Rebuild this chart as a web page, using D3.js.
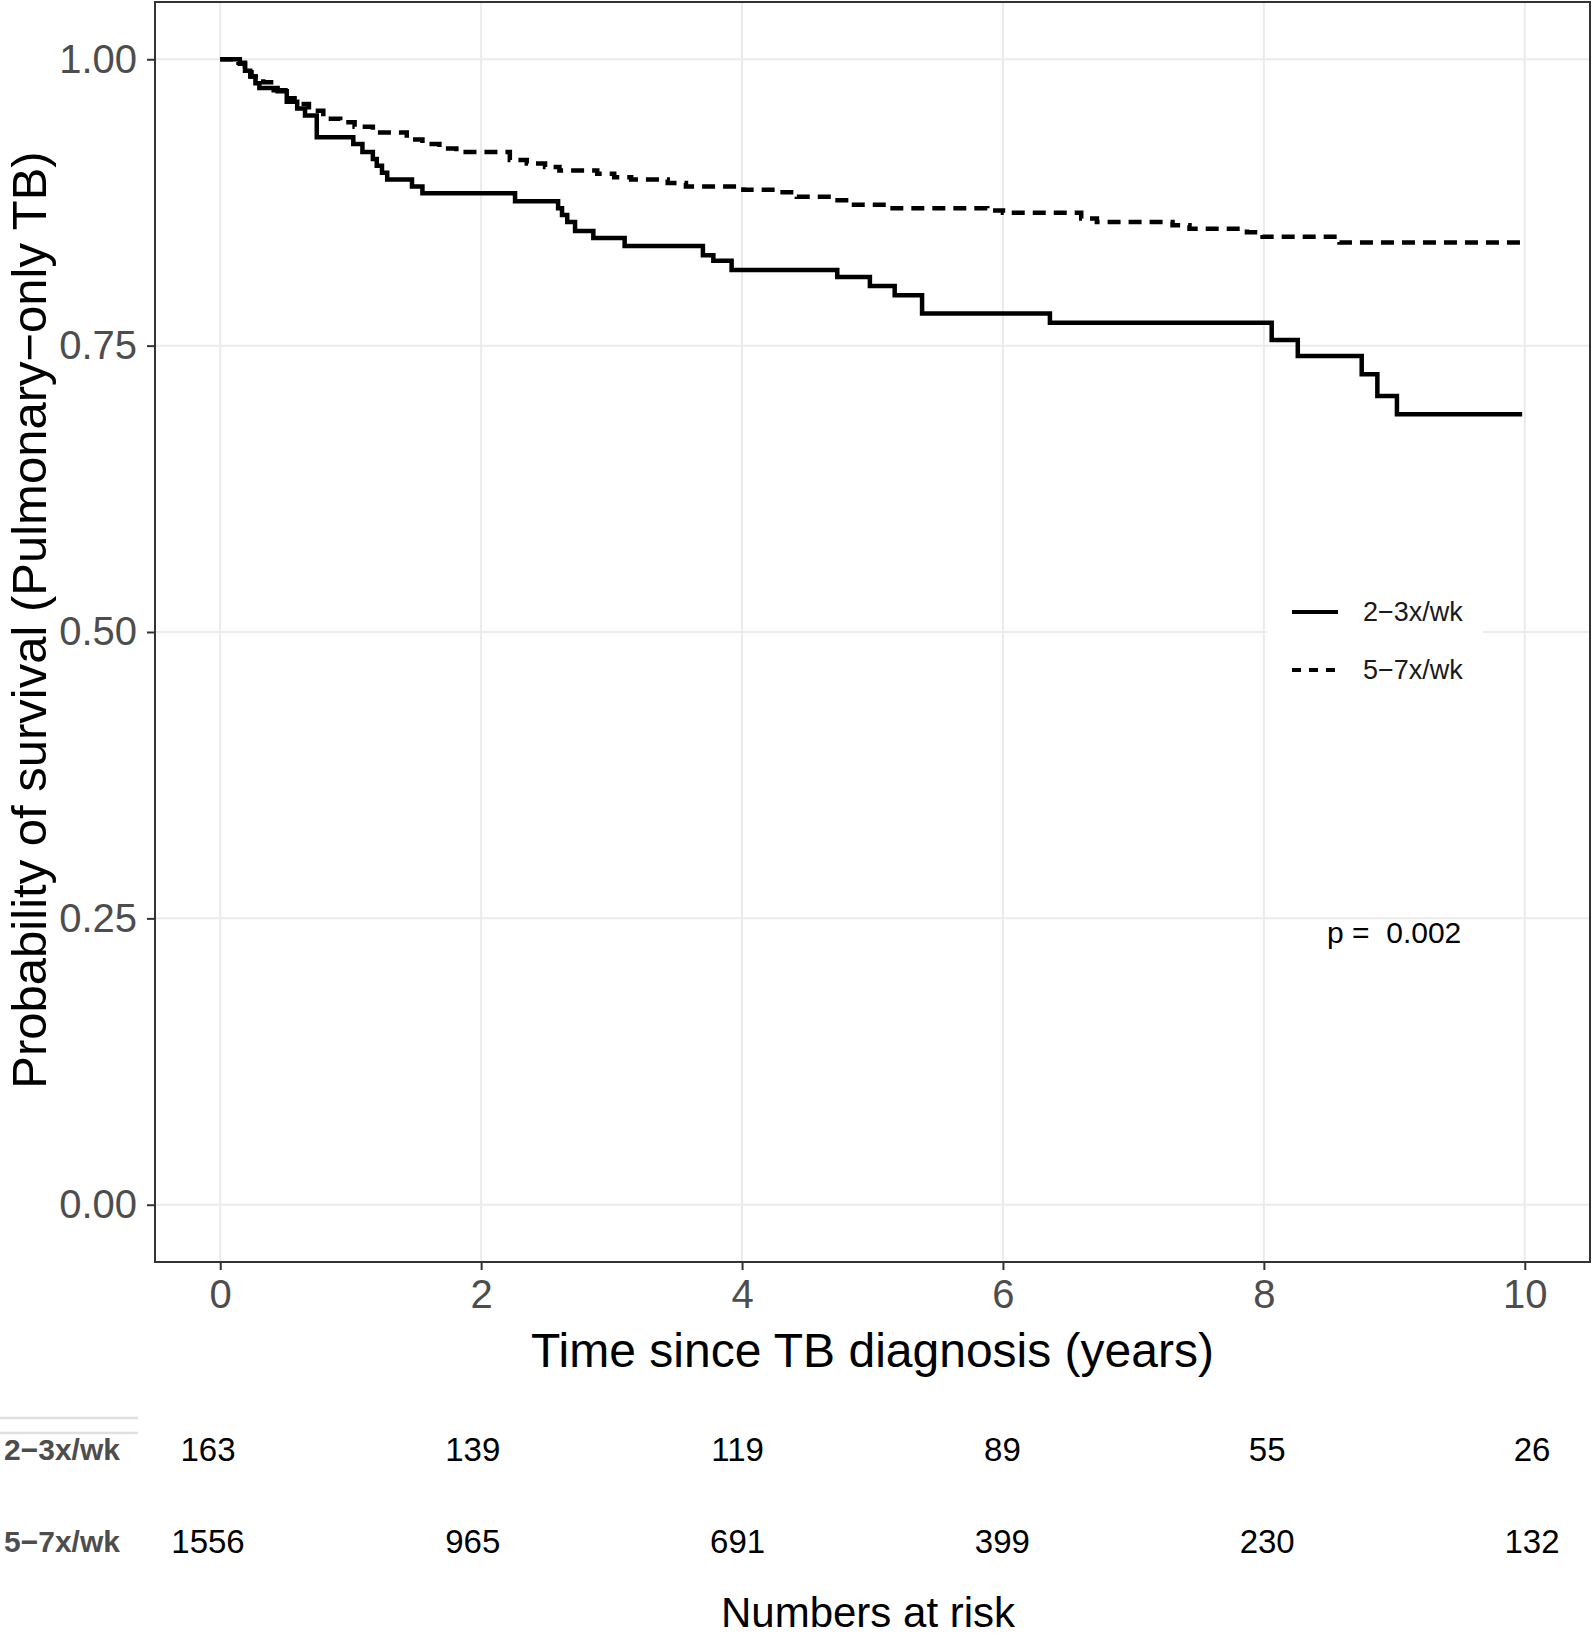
<!DOCTYPE html>
<html>
<head>
<meta charset="utf-8">
<script src="https://cdn.jsdelivr.net/npm/d3@7"></script>
<style>
  body { margin: 0; background: #fff; }
  svg { display: block; font-family: "Liberation Sans", Arial, sans-serif; }
</style>
</head>
<body>
<svg id="chart" width="1592" height="1638"></svg>
<script>
// Kaplan-Meier steps
const groups = ['2\u22123x/wk', '5\u22127x/wk'];

const timeLow = [0, 0.15, 0.19, 0.23, 0.27, 0.30, 0.44, 0.51, 0.59, 0.65, 0.74, 1.02, 1.09, 1.17, 1.20, 1.24,
  1.28, 1.47, 1.55, 2.26, 2.59, 2.62, 2.66, 2.72, 2.86, 3.10, 3.70, 3.78, 3.92, 4.73, 4.98, 5.17, 5.38,
  6.36, 8.06, 8.26, 8.75, 8.87, 9.02, 9.98];
const survLow = [1.0, 0.996, 0.990, 0.985, 0.979, 0.975, 0.972, 0.963, 0.957, 0.951, 0.932, 0.926, 0.919, 0.913, 0.907, 0.901,
  0.895, 0.889, 0.883, 0.876, 0.870, 0.864, 0.858, 0.850, 0.844, 0.837, 0.829, 0.824, 0.816, 0.810, 0.802, 0.794, 0.778,
  0.770, 0.755, 0.741, 0.725, 0.706, 0.690, 0.690];

const timeHigh = [0, 0.14, 0.19, 0.24, 0.33, 0.41, 0.50, 0.57, 0.68, 0.79, 0.92, 1.03, 1.17, 1.43, 1.55, 1.68,
  1.81, 2.22, 2.35, 2.49, 2.60, 2.89, 3.02, 3.15, 3.43, 3.57, 4.01, 4.29, 4.42, 4.70, 4.83, 5.11, 5.88,
  6.00, 6.60, 6.72, 7.30, 7.43, 7.87, 7.99, 8.58, 9.98];
const survHigh = [1.0, 0.997, 0.991, 0.985, 0.980, 0.973, 0.966, 0.961, 0.955, 0.948, 0.945, 0.941, 0.936, 0.930, 0.926, 0.922,
  0.919, 0.912, 0.909, 0.906, 0.903, 0.900, 0.897, 0.895, 0.892, 0.889, 0.886, 0.884, 0.880, 0.877, 0.873, 0.870, 0.868,
  0.866, 0.861, 0.858, 0.855, 0.852, 0.849, 0.845, 0.840, 0.840];

const xTicks = [0, 2, 4, 6, 8, 10];
const yTicks = [0, 0.25, 0.5, 0.75, 1.0];

// numbers at risk
const riskTimes = [0, 2, 4, 6, 8, 10];
const riskLow = [163, 139, 119, 89, 55, 26];
const riskHigh = [1556, 965, 691, 399, 230, 132];

const pValue = 'p =  0.002';

const svg = d3.select('#chart');

// panel
const panel = { left: 155, right: 1590, top: 2, bottom: 1262 };

const x = d3.scaleLinear().domain([-0.5, 10.5]).range([panel.left, panel.right]);
const y = d3.scaleLinear().domain([-0.05, 1.05]).range([panel.bottom, panel.top]);

// grid
const grid = svg.append('g');
grid.selectAll('.vg').data(xTicks).join('line')
    .attr('x1', d => x(d)).attr('x2', d => x(d))
    .attr('y1', panel.top).attr('y2', panel.bottom)
    .attr('stroke', '#ebebeb').attr('stroke-width', 2);
grid.selectAll('.hg').data(yTicks).join('line')
    .attr('x1', panel.left).attr('x2', panel.right)
    .attr('y1', d => y(d)).attr('y2', d => y(d))
    .attr('stroke', '#ebebeb').attr('stroke-width', 2);

// curves
const line = d3.line()
    .x(d => x(d[0]))
    .y(d => y(d[1]))
    .curve(d3.curveStepAfter);

svg.append('path')
    .datum(d3.zip(timeLow, survLow))
    .attr('fill', 'none')
    .attr('stroke', '#000')
    .attr('stroke-width', 4.5)
    .attr('d', line);

svg.append('path')
    .datum(d3.zip(timeHigh, survHigh))
    .attr('fill', 'none')
    .attr('stroke', '#000')
    .attr('stroke-width', 4.5)
    .attr('stroke-dasharray', '13,8')
    .attr('d', line);

// panel border
svg.append('rect')
    .attr('x', panel.left).attr('y', panel.top)
    .attr('width', panel.right - panel.left).attr('height', panel.bottom - panel.top)
    .attr('fill', 'none').attr('stroke', '#333').attr('stroke-width', 2);

// axes
const xAxis = svg.append('g')
    .attr('transform', `translate(0,${panel.bottom})`)
    .call(d3.axisBottom(x).tickValues(xTicks).tickSize(8).tickPadding(10).tickFormat(d3.format('d')));
const yAxis = svg.append('g')
    .attr('transform', `translate(${panel.left},0)`)
    .call(d3.axisLeft(y).tickValues(yTicks).tickSize(8).tickPadding(10).tickFormat(d3.format('.2f')));

[xAxis, yAxis].forEach(a => {
    a.select('.domain').remove();
    a.selectAll('.tick line').attr('stroke', '#333').attr('stroke-width', 2);
    a.selectAll('.tick text')
        .attr('fill', '#4d4d4d')
        .style('font-size', '40px')
        .style('font-family', '"Liberation Sans", Arial, sans-serif');
});

// axis titles
svg.append('text')
    .attr('x', (panel.left + panel.right) / 2)
    .attr('y', 1367)
    .attr('text-anchor', 'middle')
    .attr('fill', '#000')
    .style('font-size', '48px')
    .text('Time since TB diagnosis (years)');

svg.append('text')
    .attr('transform', `translate(46,${(panel.top + panel.bottom) / 2 - 12}) rotate(-90)`)
    .attr('text-anchor', 'middle')
    .attr('fill', '#000')
    .style('font-size', '49px')
    .text('Probability of survival (Pulmonary\u2212only TB)');

// legend
const legend = svg.append('g');
legend.append('rect')
    .attr('x', 1267).attr('y', 575)
    .attr('width', 216).attr('height', 130)
    .attr('fill', '#fff');
const legendY = [612, 670];
groups.forEach((g, i) => {
    legend.append('line')
        .attr('x1', 1292).attr('x2', 1338)
        .attr('y1', legendY[i]).attr('y2', legendY[i])
        .attr('stroke', '#000').attr('stroke-width', 4)
        .attr('stroke-dasharray', i === 1 ? '9,8' : null);
    legend.append('text')
        .attr('x', 1363).attr('y', legendY[i])
        .attr('dy', '0.35em')
        .attr('fill', '#1a1a1a')
        .style('font-size', '27px')
        .text(g);
});

// p value
svg.append('text')
    .attr('x', 1327).attr('y', 932)
    .attr('dy', '0.35em')
    .attr('fill', '#000')
    .style('font-size', '30px')
    .style('white-space', 'pre')
    .text(pValue);

// risk table
const xr = d3.scaleLinear().domain([0, 10]).range([208, 1532]);
const rowY = [1449, 1541];
const riskRows = [riskLow, riskHigh];

svg.append('g').selectAll('line').data([1418, 1433]).join('line')
    .attr('x1', 0).attr('x2', 138)
    .attr('y1', d => d).attr('y2', d => d)
    .attr('stroke', '#e0e0e0').attr('stroke-width', 2.5);

groups.forEach((g, i) => {
    svg.append('text')
        .attr('x', 4).attr('y', rowY[i])
        .attr('dy', '0.35em')
        .attr('fill', '#4d4d4d')
        .style('font-size', '30px')
        .style('font-weight', 'bold')
        .text(g);
    svg.append('g').selectAll('text').data(d3.zip(riskTimes, riskRows[i])).join('text')
        .attr('x', d => xr(d[0]))
        .attr('y', rowY[i])
        .attr('dy', '0.35em')
        .attr('text-anchor', 'middle')
        .attr('fill', '#000')
        .style('font-size', '33px')
        .text(d => d[1]);
});

svg.append('text')
    .attr('x', 868).attr('y', 1627)
    .attr('text-anchor', 'middle')
    .attr('fill', '#000')
    .style('font-size', '42px')
    .text('Numbers at risk');
</script>
</body>
</html>
